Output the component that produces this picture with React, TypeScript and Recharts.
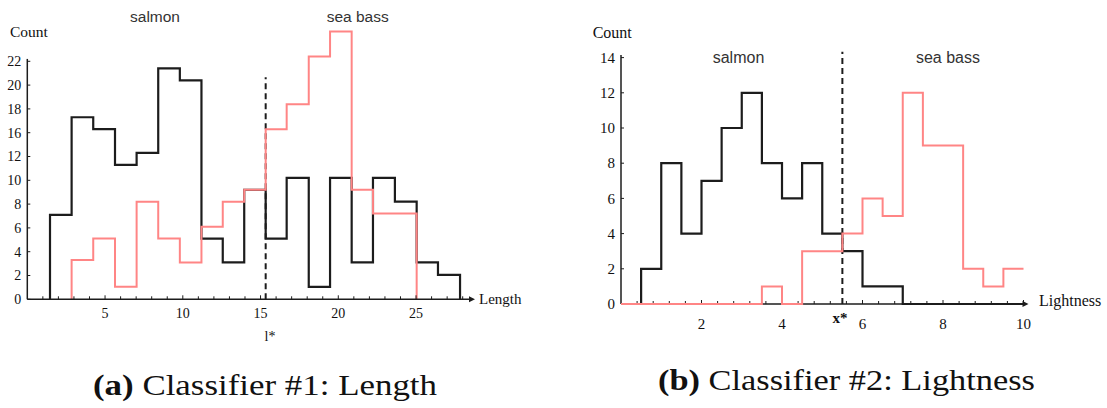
import { LineChart, Line, XAxis, YAxis, ReferenceLine, ReferenceDot } from 'recharts'

// Classifier #1: Length
const lengthEdges = [1.46, 2.85, 4.24, 5.64, 7.03, 8.42, 9.81, 11.2, 12.57, 13.95, 15.33, 16.68, 18.1, 19.47, 20.86, 22.23, 23.64, 25.04, 26.41, 27.83]
const salmonLength = [7.1, 15.3, 14.3, 11.3, 12.3, 19.4, 18.4, 5.1, 3.1, 9.2, 5.1, 10.2, 1.05, 10.2, 3.1, 10.2, 8.2, 3.1, 2.05]
const seaBassLengthEdges = [2.85, 4.24, 5.64, 7.03, 8.42, 9.81, 11.2, 12.57, 13.95, 15.33, 16.68, 18.1, 19.47, 20.86, 22.23, 23.64, 25.04]
const seaBassLength = [3.3, 5.1, 1.05, 8.2, 5.1, 3.1, 6.1, 8.2, 9.2, 14.3, 16.4, 20.4, 22.5, 9.2, 7.2, 7.2]
const lengthYTicks = [0, 2, 4, 6, 8, 10, 12, 14, 16, 18, 20]
const lengthYLabels = ['0', '2', '4', '6', '8', '10', '12', '16', '18', '20', '22']
const lengthXTicks = [1, 2, 3, 4, 5, 6, 7, 8, 9, 10, 11, 12, 13, 14, 15, 16, 17, 18, 19, 20, 21, 22, 23, 24, 25, 26, 27, 28]
const lengthXLabels = [5, 10, 15, 20, 25]
const lengthThreshold = 15.33

// Classifier #2: Lightness
const lightEdges = [0, 0.5, 1, 1.5, 2, 2.5, 3, 3.5, 4, 4.5, 5, 5.5, 6, 6.5, 7, 7.5, 8, 8.5, 9, 9.5, 10]
const salmonLight = [0, 2, 8, 4, 7, 10, 12, 8, 6, 8, 4, 3, 1, 1, 0, 0, 0, 0, 0, 0]
const seaBassLight = [0, 0, 0, 0, 0, 0, 0, 1, 0, 3, 3, 4, 6, 5, 12, 9, 9, 2, 1, 2]
const lightYTicks = [0, 2, 4, 6, 8, 10, 12, 14]
const lightXTicks = [0.4, 0.8, 1.2, 1.6, 2, 2.4, 2.8, 3.2, 3.6, 4, 4.4, 4.8, 5.2, 5.6, 6, 6.4, 6.8, 7.2, 7.6, 8, 8.4, 8.8, 9.2, 9.6, 10]
const lightXLabels = [2, 4, 6, 8, 10]
const lightThreshold = 5.5

const BLACK = '#1c1c1c'
const RED = '#ff8585'
const SERIF = '"Liberation Serif", "Times New Roman", serif'
const SANS = '"Liberation Sans", Arial, sans-serif'

function steps(edges: number[], counts: number[], closeEnd: boolean) {
  const pts = [{ x: edges[0], y: 0 }]
  counts.forEach((c, i) => pts.push({ x: edges[i], y: c }))
  pts.push({ x: edges[counts.length], y: closeEnd ? 0 : counts[counts.length - 1] })
  return pts
}

function xTick(labels: number[], size: number, dy: number) {
  return (props: any) => {
    const { x, y, payload } = props
    const v = payload.value
    const labeled = labels.includes(v)
    return (
      <g>
        <line x1={x} x2={x} y1={y} y2={y - (labeled ? 4 : 3)} stroke={BLACK} strokeWidth={1} />
        {labeled && (
          <text x={x} y={y + dy} textAnchor="middle" fontFamily={SERIF} fontSize={size} fill="#111">
            {v}
          </text>
        )}
      </g>
    )
  }
}

function yTick(ticks: number[], labels: string[], size: number) {
  return (props: any) => {
    const { x, y, payload } = props
    const label = labels[ticks.indexOf(payload.value)]
    return (
      <g>
        <line x1={x} x2={x + 3} y1={y} y2={y} stroke={BLACK} strokeWidth={1} />
        <text x={x - 6} y={y} dy="0.35em" textAnchor="end" fontFamily={SERIF} fontSize={size} fill="#111">
          {label}
        </text>
      </g>
    )
  }
}

const arrow = (p: any) => (
  <polygon points={`${p.cx - 1},${p.cy - 3} ${p.cx + 5},${p.cy} ${p.cx - 1},${p.cy + 3}`} fill={BLACK} />
)

export default function App() {
  return (
    <div style={{ position: 'absolute', left: 0, top: 0, width: 1107, height: 408, background: '#fff', overflow: 'hidden' }}>
      <div style={{ position: 'absolute', left: 0, top: 0 }}>
        <LineChart width={540} height={340} margin={{ top: 25.6, right: 70, bottom: 10.7, left: 0 }}>
          <XAxis
            type="number"
            dataKey="x"
            domain={[0, 28.47]}
            ticks={lengthXTicks}
            interval={0}
            tickSize={0}
            tickMargin={0}
            height={30}
            axisLine={{ stroke: BLACK, strokeWidth: 1.5 }}
            tick={xTick(lengthXLabels, 14, 18.5)}
            allowDataOverflow
          />
          <YAxis
            type="number"
            domain={[0, 23]}
            ticks={lengthYTicks}
            interval={0}
            width={27.3}
            tickSize={0}
            tickMargin={0}
            axisLine={false}
            tick={yTick(lengthYTicks, lengthYLabels, 14)}
            allowDataOverflow
          />
          <ReferenceLine segment={[{ x: 0, y: 0 }, { x: 0, y: 20.2 }]} stroke={BLACK} strokeWidth={1.5} />
          <ReferenceLine
            segment={[{ x: lengthThreshold, y: 0 }, { x: lengthThreshold, y: 18.65 }]}
            stroke={BLACK}
            strokeWidth={2}
            strokeDasharray="6 4"
          />
          <Line data={steps(lengthEdges, salmonLength, true)} dataKey="y" type="stepAfter" stroke={BLACK} strokeWidth={2.2} dot={false} isAnimationActive={false} />
          <Line data={steps(seaBassLengthEdges, seaBassLength, true)} dataKey="y" type="stepAfter" stroke={RED} strokeWidth={2} dot={false} isAnimationActive={false} />
          <ReferenceDot x={28.47} y={0} r={0} shape={arrow} />
        </LineChart>
      </div>

      {/* lightness: axes underneath */}
      <div style={{ position: 'absolute', left: 560, top: 0 }}>
        <LineChart width={547} height={340} margin={{ top: 48.8, right: 83.5, bottom: 6, left: 0 }}>
          <XAxis
            type="number"
            dataKey="x"
            domain={[0, 10]}
            ticks={lightXTicks}
            interval={0}
            tickSize={0}
            tickMargin={0}
            height={30}
            axisLine={{ stroke: BLACK, strokeWidth: 1.5 }}
            tick={xTick(lightXLabels, 15, 25)}
            allowDataOverflow
          />
          <YAxis
            type="number"
            domain={[0, 14.5]}
            ticks={lightYTicks}
            interval={0}
            width={61}
            tickSize={0}
            tickMargin={0}
            axisLine={false}
            tick={yTick(lightYTicks, lightYTicks.map(String), 15)}
            allowDataOverflow
          />
          <ReferenceLine segment={[{ x: 0, y: 0 }, { x: 0, y: 14.15 }]} stroke={BLACK} strokeWidth={1.5} />
          <ReferenceLine
            segment={[{ x: lightThreshold, y: 0 }, { x: lightThreshold, y: 14.33 }]}
            stroke={BLACK}
            strokeWidth={2}
            strokeDasharray="6 4"
          />
          <ReferenceDot x={10} y={0} r={0} shape={arrow} />
        </LineChart>
      </div>

      {/* lightness: histograms on top; y domain dips below 0 so the pink baseline is not clipped */}
      <div style={{ position: 'absolute', left: 560, top: 0 }}>
        <LineChart width={547} height={340} margin={{ top: 48.8, right: 82, bottom: 32.5, left: 61 }}>
          <XAxis type="number" dataKey="x" domain={[0, 10.037]} hide allowDataOverflow />
          <YAxis type="number" domain={[-0.2, 14.5]} hide allowDataOverflow />
          <Line data={steps(lightEdges, salmonLight, false)} dataKey="y" type="stepAfter" stroke={BLACK} strokeWidth={2.2} dot={false} isAnimationActive={false} />
          <Line data={steps(lightEdges, seaBassLight, false)} dataKey="y" type="stepAfter" stroke={RED} strokeWidth={2} dot={false} isAnimationActive={false} />
        </LineChart>
      </div>

      <svg width={1107} height={408} style={{ position: 'absolute', left: 0, top: 0, pointerEvents: 'none' }}>
        <text x={10} y={37} fontFamily={SERIF} fontSize={15.5} fill="#111">Count</text>
        <text x={155} y={21.5} textAnchor="middle" fontFamily={SANS} fontSize={15.5} fill="#333">salmon</text>
        <text x={357.7} y={21.5} textAnchor="middle" fontFamily={SANS} fontSize={15.5} fill="#333">sea bass</text>
        <text x={479} y={303.5} fontFamily={SERIF} fontSize={15} fill="#111">Length</text>
        <text x={270} y={341} textAnchor="middle" fontFamily={SERIF} fontSize={14} fill="#111">l*</text>

        <text x={592.7} y={38.3} fontFamily={SERIF} fontSize={16} fill="#111">Count</text>
        <text x={738.5} y={63} textAnchor="middle" fontFamily={SANS} fontSize={16} fill="#333">salmon</text>
        <text x={948} y={63} textAnchor="middle" fontFamily={SANS} fontSize={16} fill="#333">sea bass</text>
        <text x={1039} y={306} fontFamily={SERIF} fontSize={16} fill="#111">Lightness</text>
        <text x={840} y={323} textAnchor="middle" fontFamily={SERIF} fontSize={15} fontWeight="bold" fill="#111">x*</text>

        <text x={93} y={395} textLength={344} lengthAdjust="spacingAndGlyphs" fontFamily={SERIF} fontSize={29} fill="#111">
          <tspan fontWeight="bold">(a)</tspan> Classifier #1: Length
        </text>
        <text x={658} y={390} textLength={377} lengthAdjust="spacingAndGlyphs" fontFamily={SERIF} fontSize={29} fill="#111">
          <tspan fontWeight="bold">(b)</tspan> Classifier #2: Lightness
        </text>
      </svg>
    </div>
  )
}
